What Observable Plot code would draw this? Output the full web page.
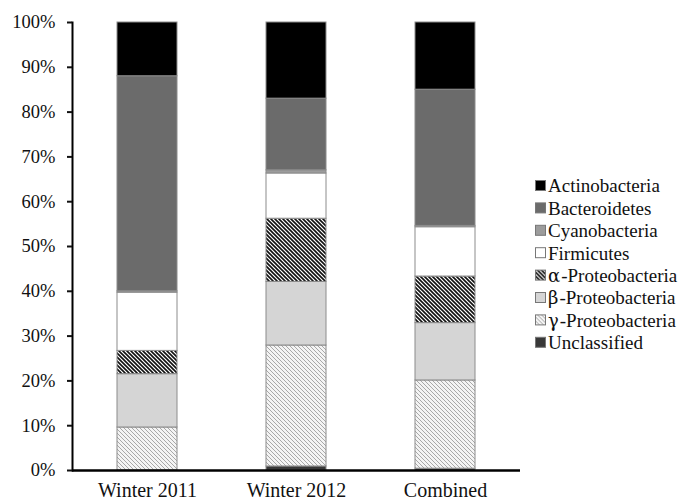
<!DOCTYPE html>
<html>
<head>
<meta charset="utf-8">
<script src="https://cdn.jsdelivr.net/npm/d3@7"></script>
<script src="https://cdn.jsdelivr.net/npm/@observablehq/plot@0.6"></script>
<style>
  html, body { margin: 0; padding: 0; background: #fff; }
  #wrap { position: relative; width: 694px; height: 501px; }
  #legend { position: absolute; left: 0; top: 0; }
</style>
</head>
<body>
<svg width="0" height="0" style="position:absolute">
  <defs>
    <pattern id="patAlpha" patternUnits="userSpaceOnUse" width="4" height="4">
      <rect width="4" height="4" fill="#fff"/>
      <path d="M-1,-1 L5,5 M-1,3 L1,5 M3,-1 L5,1" stroke="#111" stroke-width="1.6"/>
    </pattern>
    <pattern id="patGamma" patternUnits="userSpaceOnUse" width="4" height="4">
      <rect width="4" height="4" fill="#f4f4f4"/>
      <path d="M-1,-1 L5,5 M-1,3 L1,5 M3,-1 L5,1" stroke="#a8a8a8" stroke-width="1"/>
    </pattern>
  </defs>
</svg>
<div id="wrap">
  <div id="chart"></div>
  <svg id="legend" width="694" height="501"></svg>
</div>
<script>
const categories = ["Winter 2011", "Winter 2012", "Combined"];
const taxa = ["Actinobacteria", "Bacteroidetes", "Cyanobacteria", "Firmicutes",
              "α-Proteobacteria", "β-Proteobacteria", "γ-Proteobacteria", "Unclassified"];
// percentages per taxon, same order as taxa
const winter2011 = [12.0, 48.0, 0.3, 13.0, 5.2, 11.9, 9.6, 0.0];
const winter2012 = [17.0, 16.0, 0.7, 10.1, 14.1, 14.2, 27.0, 0.9];
const combined   = [15.0, 30.4, 0.3, 11.0, 10.4, 12.8, 19.7, 0.4];
const yTicks = [0, 10, 20, 30, 40, 50, 60, 70, 80, 90, 100];
const fills = ["#000000", "#6b6b6b", "#9c9c9c", "#ffffff",
               "url(#patAlpha)", "#d5d5d5", "url(#patGamma)", "#383838"];

const serif = "'Liberation Serif', 'DejaVu Serif', serif";
const series = [winter2011, winter2012, combined];
// stack bottom-to-top: Unclassified first, Actinobacteria last
const rows = [];
for (let t = taxa.length - 1; t >= 0; t--) {
  categories.forEach((c, i) => rows.push({category: c, taxon: taxa[t], value: series[i][t]}));
}

const chart = Plot.plot({
  width: 694,
  height: 501,
  marginTop: 22,
  marginBottom: 31,
  marginLeft: 72,
  marginRight: 174,
  style: {fontFamily: serif, fontSize: "18px", color: "#111", background: "#fff"},
  x: {domain: categories, paddingInner: 0.6, paddingOuter: 0.3, label: null},
  y: {domain: [0, 100], label: null},
  color: {domain: taxa, range: fills},
  marks: [
    Plot.barY(rows, {x: "category", y: "value", fill: "taxon", stroke: "#8c8c8c", strokeWidth: 1}),
    Plot.frame({anchor: "left", stroke: "#000", strokeWidth: 2}),
    Plot.ruleY([0], {stroke: "#000", strokeWidth: 2.5}),
    Plot.axisY({ticks: yTicks, tickFormat: d => d + "%", tickSize: 5, tickPadding: 12, strokeWidth: 2, fontSize: 18.5, label: null}),
    Plot.axisX({tickSize: 0, tickPadding: 12, fontSize: 20, label: null})
  ]
});
document.getElementById("chart").appendChild(chart);

// legend drawn as SVG text in the same font as the axes
const lg = d3.select("#legend").append("g")
  .attr("font-family", serif).attr("font-size", 19).attr("fill", "#111");
const legendTop = 186, legendStep = 22.4;
taxa.forEach((t, i) => {
  const g = lg.append("g").attr("transform", `translate(535,${legendTop + i * legendStep})`);
  g.append("rect").attr("x", 0.5).attr("y", -5.5).attr("width", 10).attr("height", 10)
    .attr("fill", fills[i]).attr("stroke", "#777").attr("stroke-width", 1);
  const text = g.append("text").attr("x", 13).attr("y", 0).attr("dy", "0.34em");
  const m = /^([αβγ])(.*)$/.exec(t);
  if (m) {
    text.append("tspan").attr("font-family", "'DejaVu Serif', serif").attr("font-size", 18).text(m[1]);
    text.append("tspan").attr("dx", 1).text(m[2]);
  } else {
    text.text(t);
  }
});
</script>
</body>
</html>
